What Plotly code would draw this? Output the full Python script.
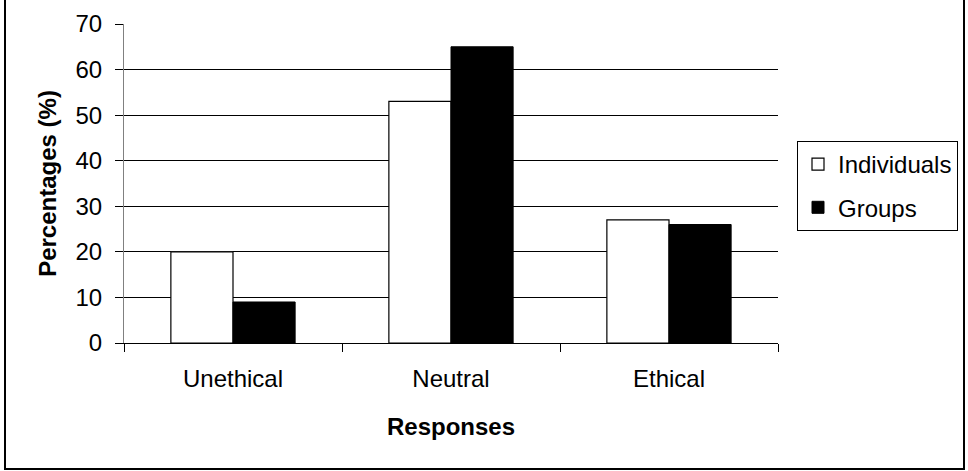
import plotly.graph_objects as go

# Survey responses by category
categories = ["Unethical", "Neutral", "Ethical"]
individuals = [20, 53, 27]
groups = [9, 65, 26]
y_ticks = [0, 10, 20, 30, 40, 50, 60, 70]
grid_vals = [10, 20, 30, 40, 50, 60]

FONT = "Liberation Sans, Arial, sans-serif"
FS = 24

# Plot area in pixels (figure 968x471)
L, R, T, B = 124, 778, 24, 343
W, H = 968, 471
pw, ph = R - L, B - T


def px_x(p):
    return (p - L) / pw


def px_y(p):
    return (B - p) / ph


fig = go.Figure()
fig.add_trace(go.Bar(
    name="Individuals", x=categories, y=individuals,
    marker=dict(color="white", line=dict(color="black", width=1.2)),
    legendgroup="a",
))
fig.add_trace(go.Bar(
    name="Groups", x=categories, y=groups,
    marker=dict(color="black", line=dict(color="black", width=1)),
    legendgroup="b",
))
# invisible trace on an overlay axis that carries the gridlines
fig.add_trace(go.Scatter(x=categories, y=[None] * 3, yaxis="y2",
                         showlegend=False, hoverinfo="skip"))

fig.update_layout(
    width=W, height=H,
    margin=dict(l=L, r=W - R, t=T, b=H - B, autoexpand=False),
    paper_bgcolor="white", plot_bgcolor="white",
    font=dict(family=FONT, size=FS, color="black"),
    barmode="group", bargap=0.43, bargroupgap=0,
    showlegend=True,
    legend=dict(
        x=px_x(797), y=px_y(141), xanchor="left", yanchor="top",
        bordercolor="black", borderwidth=1, bgcolor="white",
        font=dict(family=FONT, size=FS, color="black"),
        traceorder="grouped", tracegroupgap=9,
    ),
    xaxis=dict(
        type="category",
        showline=True, linecolor="black", linewidth=1,
        ticks="outside", ticklen=8, tickcolor="black", tickwidth=1,
        tickson="boundaries",
        showgrid=False, zeroline=False,
        ticklabelstandoff=14,
        tickfont=dict(family=FONT, size=FS),
        title=dict(text="<b>Responses</b>", standoff=27,
                   font=dict(family=FONT, size=FS)),
    ),
    yaxis=dict(
        range=[0, 70], tickvals=y_ticks,
        showline=True, linecolor="#808080", linewidth=1,
        ticks="outside", ticklen=8, tickcolor="black", tickwidth=1,
        showgrid=False, zeroline=False,
        ticklabelstandoff=8,
        tickfont=dict(family=FONT, size=FS),
        title=dict(text="<b>Percentages (%)</b>", standoff=12,
                   font=dict(family=FONT, size=FS)),
    ),
    yaxis2=dict(
        range=[0, 70], tickvals=grid_vals, overlaying="y",
        showgrid=True, gridcolor="black", gridwidth=1,
        showticklabels=False, ticks="", showline=False, zeroline=False,
    ),
    shapes=[dict(
        type="rect", xref="paper", yref="paper",
        x0=px_x(5), x1=px_x(964), y0=px_y(469), y1=px_y(-3),
        line=dict(color="black", width=2), fillcolor="rgba(0,0,0,0)",
        layer="above",
    )],
)

fig.write_html("out.html")
